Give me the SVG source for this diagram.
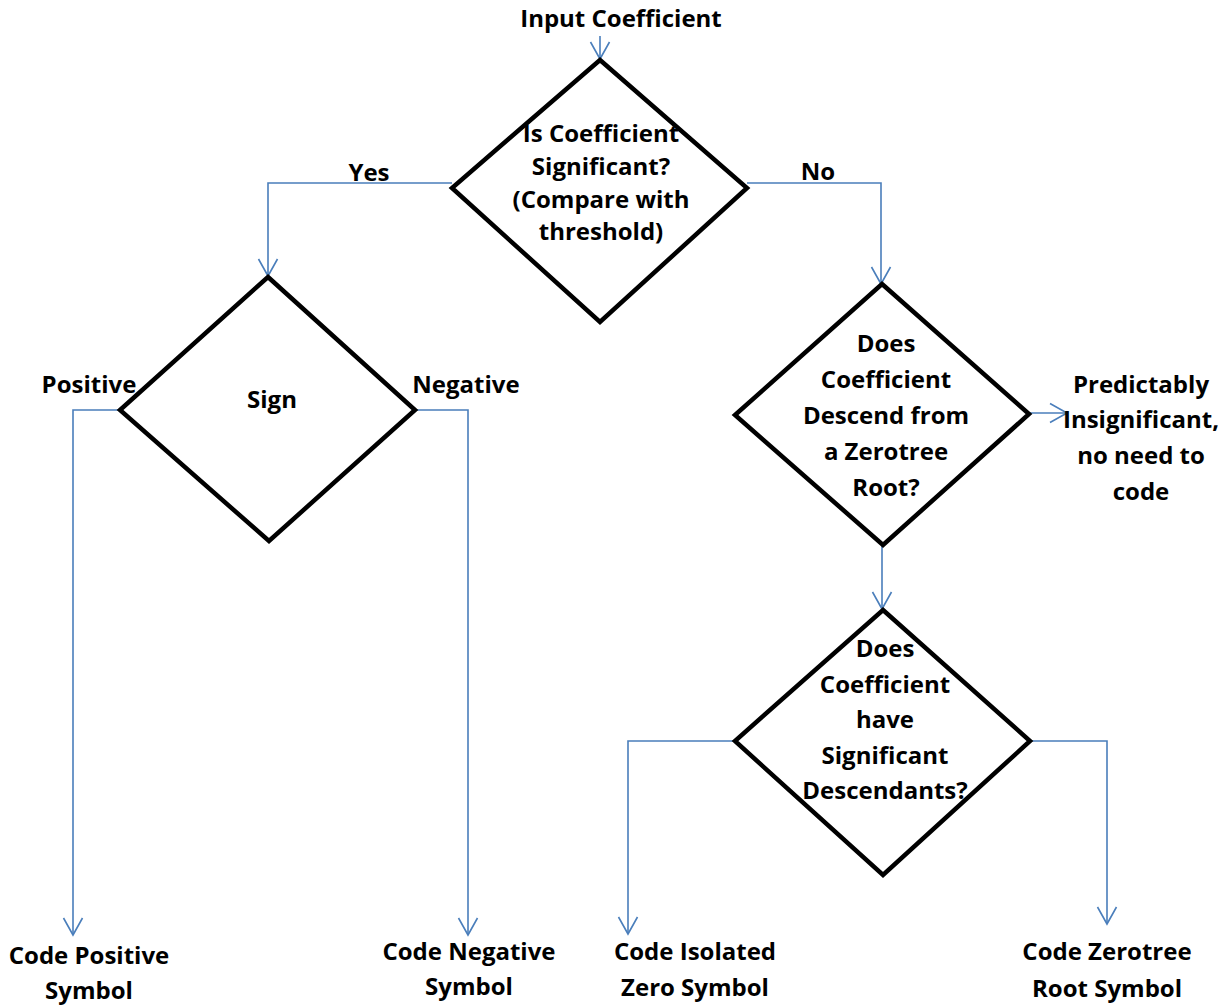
<svg xmlns="http://www.w3.org/2000/svg" width="1229" height="1005" viewBox="0 0 1229 1005">
  <defs>
    <marker id="arrow" markerUnits="userSpaceOnUse" markerWidth="40" markerHeight="40" viewBox="-20 -20 40 40" refX="0" refY="0" orient="auto">
      <path d="M-17,-9.5 L0,0 L-17,9.5" fill="none" stroke="#4a7ebb" stroke-width="1.6"/>
    </marker>
  </defs>
  <style>
    .shape { fill: #ffffff; stroke: #000000; stroke-width: 4.5; stroke-linejoin: miter; }
    .conn { fill: none; stroke: #4a7ebb; stroke-width: 1.6; }
    .arr { marker-end: url(#arrow); }
    text { font-family: "Open Sans", "Liberation Sans", sans-serif; font-weight: bold; font-size: 24px; fill: #000000; text-anchor: middle; }
  </style>
  <rect width="1229" height="1005" fill="#ffffff"/>

  <!-- connectors -->
  <g id="connectors">
    <path class="conn arr" d="M600,36 L600,59"/>
    <path class="conn arr" d="M452,183 L268,183 L268,276"/>
    <path class="conn arr" d="M747,183 L881,183 L881,284"/>
    <path class="conn arr" d="M1029,413 L1067,413"/>
    <path class="conn arr" d="M882,545 L882,609"/>
    <path class="conn arr" d="M120,410 L73,410 L73,935"/>
    <path class="conn arr" d="M415,410 L468,410 L468,935"/>
    <path class="conn arr" d="M735,741 L628,741 L628,934"/>
    <path class="conn arr" d="M1030,741 L1107,741 L1107,924"/>
  </g>

  <!-- start label -->
  <g id="input">
    <text x="621" y="27">Input Coefficient</text>
  </g>

  <!-- significance test -->
  <g id="significant">
    <polygon class="shape" points="600,60 747,188 600,322 452,188"/>
    <text x="601" y="142">Is Coefficient</text>
    <text x="601" y="175">Significant?</text>
    <text x="601" y="208">(Compare with</text>
    <text x="601" y="240">threshold)</text>
  </g>

  <!-- sign test -->
  <g id="sign">
    <polygon class="shape" points="268,277 415,410 269,541 120,410"/>
    <text x="272" y="408">Sign</text>
  </g>

  <!-- zerotree descent test -->
  <g id="descend">
    <polygon class="shape" points="882,284 1029,414 883,545 735,415"/>
    <text x="886" y="352">Does</text>
    <text x="886" y="388">Coefficient</text>
    <text x="886" y="424">Descend from</text>
    <text x="886" y="460">a Zerotree</text>
    <text x="886" y="496">Root?</text>
  </g>

  <!-- significant descendants test -->
  <g id="descendants">
    <polygon class="shape" points="883,610 1030,741 883,875 735,741"/>
    <text x="885" y="657">Does</text>
    <text x="885" y="693">Coefficient</text>
    <text x="885" y="728">have</text>
    <text x="885" y="764">Significant</text>
    <text x="885" y="799">Descendants?</text>
  </g>

  <!-- branch labels -->
  <g id="labels">
    <text x="369" y="181">Yes</text>
    <text x="818" y="180">No</text>
    <text x="89" y="393">Positive</text>
    <text x="466" y="393">Negative</text>
  </g>

  <!-- outcomes -->
  <g id="predictable">
    <text x="1141" y="393">Predictably</text>
    <text x="1141" y="428">Insignificant,</text>
    <text x="1141" y="464">no need to</text>
    <text x="1141" y="500">code</text>
  </g>
  <g id="code-positive">
    <text x="89" y="964">Code Positive</text>
    <text x="89" y="999">Symbol</text>
  </g>
  <g id="code-negative">
    <text x="469" y="960">Code Negative</text>
    <text x="469" y="995">Symbol</text>
  </g>
  <g id="code-isolated">
    <text x="695" y="960">Code Isolated</text>
    <text x="695" y="996">Zero Symbol</text>
  </g>
  <g id="code-zerotree">
    <text x="1107" y="960">Code Zerotree</text>
    <text x="1107" y="997">Root Symbol</text>
  </g>
</svg>
